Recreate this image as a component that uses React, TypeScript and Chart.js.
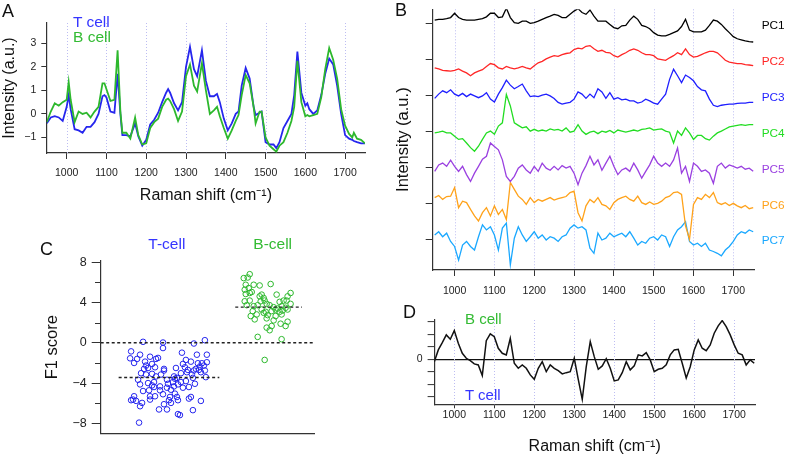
import React, { useEffect, useRef } from "react";
import { Chart, registerables } from "chart.js";

Chart.register(...registerables);

const W = 787;
const H = 458;
const FONT = "'Liberation Sans', Arial, Helvetica, sans-serif";
Chart.defaults.font.family = FONT;
Chart.defaults.color = "#222";

// ---------------- shared ----------------
const SHIFT_TICKS = [1000, 1100, 1200, 1300, 1400, 1500, 1600, 1700];
const T_COLOR = "#2626ee";
const B_COLOR = "#2db82d";
const AXIS = "#333";

// ---------------- Panel A: mean spectra ----------------
const WAVENUMBER_A = [
  950, 960, 970, 980, 990, 1000, 1005, 1010, 1020, 1030,
  1040, 1050, 1060, 1070, 1080, 1090, 1095, 1100, 1110, 1120,
  1128, 1135, 1140, 1150, 1160, 1172, 1180, 1190, 1200, 1210,
  1220, 1230, 1240, 1250, 1255, 1260, 1270, 1280, 1290, 1300,
  1310, 1320, 1328, 1340, 1350, 1360, 1370, 1378, 1385, 1395,
  1405, 1415, 1425, 1432, 1440, 1450, 1460, 1470, 1475, 1485,
  1490, 1500, 1510, 1520, 1527, 1535, 1545, 1555, 1565, 1572,
  1580, 1590, 1600, 1605, 1610, 1620, 1630, 1640, 1650, 1660,
  1670, 1680, 1690, 1700, 1710, 1718, 1722, 1730, 1740, 1750,
];
const T_CELL_SPECTRUM = [
  -0.4, -0.15, -0.1, -0.15, -0.3, 0.3, 0.8, 0.2, -0.65, -0.7,
  -0.8, -0.55, -0.55, -0.35, 0.0, 0.75, 0.8, 0.7, 0.1, 0.05,
  1.7, 0.0, -0.9, -0.9, -0.95, -0.4, -0.95, -1.35, -1.1, -0.45,
  -0.25, 0.05, 0.5, 0.9, 1.05, 0.9, 0.45, 0.15, 0.5, 2.0,
  2.85, 1.9, 1.6, 2.7, 1.4, 0.75, 0.75, 0.85, 0.5, -0.2,
  -0.7, -0.4, 0.0, 0.1, 1.2, 1.95, 1.5, 0.3, -0.05, 0.05,
  0.1, -1.2, -1.3, -1.3, -1.45, -1.2, -0.6, -0.3, 0.0, 0.8,
  2.65, 0.9, 0.35, 0.45, 0.2, 0.0, 0.15, 0.8, 1.7, 2.35,
  2.1, 1.2, 0.0, -0.9, -1.05, -1.1, -1.15, -1.2, -1.25, -1.25,
];
const B_CELL_SPECTRUM = [
  -0.35, 0.1, 0.45, 0.35, 0.5, 0.6, 1.35, 0.6, -0.35, 0.1,
  0.0, 0.05, -0.15, 0.1, 0.3, 1.3, 1.3, 1.05, 0.55, 0.6,
  2.7, 0.1, -0.8, -0.8, -1.05, -0.15, -0.9, -1.3, -1.25, -0.6,
  -0.35, -0.2, 0.3, 0.6, 0.65, 0.55, 0.2, -0.3, 0.1, 1.6,
  2.1, 1.2, 0.95, 2.15, 1.0, 0.0, 0.15, 0.3, -0.1, -0.6,
  -1.05, -0.7, -0.3, -0.05, 0.8, 1.65, 1.3, 0.3, -0.4, 0.1,
  0.1, -1.0, -1.35, -1.5, -1.6, -1.35, -1.2, -0.8, -0.3, 0.3,
  2.25, 0.5, -0.1, -0.05, -0.1, -0.05, 0.0, 0.7, 1.9, 2.8,
  2.3, 1.5, 0.2, -0.5, -0.85, -1.0, -0.8, -1.05, -1.1, -1.25,
];
const A_Y_TICKS = [-1, 0, 1, 2, 3];

// ---------------- Panel B: principal components ----------------
const WAVENUMBER = [
  950, 960, 970, 980, 990, 1000, 1010, 1020, 1030, 1040,
  1050, 1060, 1070, 1080, 1090, 1100, 1110, 1120, 1130, 1140,
  1150, 1160, 1170, 1180, 1190, 1200, 1210, 1220, 1230, 1240,
  1250, 1260, 1270, 1280, 1290, 1300, 1310, 1320, 1330, 1340,
  1350, 1360, 1370, 1380, 1390, 1400, 1410, 1420, 1430, 1440,
  1450, 1460, 1470, 1480, 1490, 1500, 1510, 1520, 1530, 1540,
  1550, 1560, 1570, 1580, 1590, 1600, 1610, 1620, 1630, 1640,
  1650, 1660, 1670, 1680, 1690, 1700, 1710, 1720, 1730, 1740,
  1750,
];
const PC_NAMES = ["PC1", "PC2", "PC3", "PC4", "PC5", "PC6", "PC7"];
const PC_COLORS = ["#000000", "#ff2626", "#1f1fff", "#22dd22", "#9a40e0", "#ffa21a", "#1aa8ff"];
const PC_OFFSETS = [6, 5, 4, 3, 2, 1, 0];
const PC1 = [
  0.10, 0.12, 0.12, 0.14, 0.17, 0.29, 0.17, 0.12, 0.10, 0.10,
  0.10, 0.12, 0.14, 0.19, 0.29, 0.29, 0.17, 0.19, 0.43, 0.17,
  0.03, 0.01, 0.07, 0.07, 0.01, 0.03, 0.07, 0.12, 0.17, 0.21,
  0.26, 0.23, 0.17, 0.17, 0.26, 0.35, 0.42, 0.31, 0.26, 0.38,
  0.21, 0.07, 0.07, 0.07, -0.02, -0.11, -0.14, -0.06, -0.05, 0.10,
  0.21, 0.12, -0.05, -0.08, -0.14, -0.25, -0.32, -0.34, -0.34, -0.30,
  -0.25, -0.20, -0.08, 0.12, -0.18, -0.23, -0.23, -0.23, -0.18, -0.05,
  0.10, 0.07, -0.02, -0.14, -0.25, -0.36, -0.42, -0.45, -0.48, -0.50,
  -0.51,
];
const PC2 = [
  -0.23, -0.26, -0.30, -0.31, -0.32, -0.30, -0.26, -0.32, -0.37, -0.45,
  -0.37, -0.32, -0.28, -0.19, -0.11, -0.14, -0.23, -0.26, -0.19, -0.23,
  -0.26, -0.23, -0.19, -0.23, -0.26, -0.17, -0.09, -0.05, 0.02, 0.07,
  0.11, 0.09, 0.14, 0.17, 0.19, 0.28, 0.32, 0.30, 0.37, 0.39,
  0.30, 0.23, 0.26, 0.20, 0.19, 0.11, 0.07, 0.14, 0.19, 0.26,
  0.30, 0.26, 0.19, 0.14, 0.14, 0.11, 0.02, 0.00, -0.02, 0.05,
  0.11, 0.19, 0.14, 0.30, 0.14, 0.07, 0.09, 0.14, 0.19, 0.23,
  0.23, 0.19, 0.09, -0.02, -0.07, -0.09, -0.11, -0.11, -0.14, -0.15,
  -0.17,
];
const PC3 = [
  -0.08, 0.04, 0.13, 0.08, 0.16, 0.04, -0.01, 0.06, -0.03, 0.04,
  -0.01, -0.06, -0.01, 0.08, -0.10, -0.18, 0.04, 0.22, 0.43, 0.29,
  0.19, 0.25, 0.32, 0.13, -0.03, -0.01, -0.03, 0.01, 0.04, -0.01,
  -0.08, -0.19, -0.24, -0.21, -0.19, -0.10, 0.10, 0.04, -0.08, 0.04,
  -0.06, 0.19, 0.10, -0.08, 0.08, -0.10, -0.06, -0.12, -0.10, -0.15,
  -0.15, -0.21, -0.18, -0.10, -0.15, -0.21, -0.24, -0.10, 0.04, 0.45,
  0.73, 0.55, 0.36, 0.57, 0.50, 0.41, 0.25, 0.16, 0.13, -0.10,
  -0.27, -0.31, -0.27, -0.25, -0.24, -0.24, -0.22, -0.21, -0.21, -0.19,
  -0.19,
];
const PC4 = [
  -0.04, -0.02, 0.01, -0.04, -0.04, -0.13, -0.22, -0.20, -0.32, -0.45,
  -0.55, -0.41, -0.22, -0.04, 0.01, -0.08, 0.15, 0.24, 1.03, 0.71,
  0.24, 0.17, 0.10, 0.13, 0.01, 0.06, 0.01, 0.04, 0.01, 0.07,
  0.04, 0.06, 0.01, 0.10, -0.02, 0.01, 0.19, 0.01, -0.08, -0.02,
  0.01, -0.06, 0.01, -0.02, 0.03, -0.04, 0.04, 0.01, -0.02, 0.01,
  0.04, 0.01, 0.06, 0.07, 0.10, 0.04, 0.06, 0.07, 0.01, -0.02,
  -0.32, 0.01, -0.11, 0.10, -0.04, -0.22, -0.11, -0.11, -0.20, -0.24,
  -0.13, -0.04, 0.01, 0.07, 0.13, 0.15, 0.17, 0.19, 0.17, 0.19,
  0.19,
];
const PC5 = [
  -0.11, 0.07, 0.12, 0.03, 0.20, 0.03, -0.11, 0.03, -0.20, -0.39,
  -0.16, 0.03, 0.23, 0.31, 0.68, 0.58, 0.49, 0.21, -0.25, -0.39,
  -0.25, -0.02, 0.07, -0.07, -0.16, 0.03, -0.11, 0.12, -0.02, -0.08,
  0.03, -0.07, 0.05, -0.02, 0.03, -0.16, -0.48, -0.16, 0.05, 0.31,
  0.07, 0.21, -0.08, 0.12, 0.31, 0.03, -0.20, -0.07, -0.02, -0.11,
  0.12, -0.07, -0.30, -0.11, 0.07, 0.31, 0.12, 0.03, 0.12, 0.03,
  0.21, 0.54, -0.16, 0.03, -0.39, 0.12, 0.03, -0.11, -0.07, -0.16,
  -0.44, 0.03, 0.12, -0.02, 0.07, 0.03, -0.02, 0.03, -0.05, -0.02,
  -0.11,
];
const PC6 = [
  0.16, 0.22, 0.11, 0.19, 0.20, 0.44, -0.12, 0.06, 0.02, -0.17,
  -0.35, -0.49, -0.26, -0.12, -0.35, -0.07, -0.31, -0.17, -0.45, 0.58,
  0.39, 0.20, 0.11, -0.03, 0.16, 0.02, 0.11, 0.06, 0.11, 0.16,
  0.09, 0.13, 0.16, 0.19, 0.30, 0.34, -0.26, -0.49, -0.07, 0.11,
  0.02, 0.16, -0.03, -0.07, -0.17, 0.02, 0.11, 0.16, 0.20, 0.11,
  0.06, 0.20, 0.02, -0.03, 0.04, -0.03, 0.00, 0.06, 0.16, 0.20,
  0.30, 0.32, 0.25, -0.63, -1.00, -0.03, 0.16, 0.11, 0.25, 0.16,
  0.30, 0.02, -0.03, 0.02, -0.06, 0.00, -0.07, -0.12, -0.06, -0.15,
  -0.12,
];
const PC7 = [
  0.12, 0.21, 0.07, 0.17, -0.06, -0.20, -0.58, -0.16, -0.06, -0.20,
  -0.30, 0.07, 0.40, 0.26, 0.35, 0.12, -0.30, 0.31, 0.45, -0.71,
  0.03, 0.35, 0.12, -0.06, 0.07, 0.21, 0.03, 0.12, -0.02, 0.07,
  0.03, -0.06, 0.07, 0.12, 0.31, 0.40, 0.31, 0.35, 0.26, -0.25,
  -0.39, 0.17, -0.02, 0.03, 0.17, 0.07, 0.12, 0.17, 0.07, 0.21,
  0.03, -0.16, -0.06, -0.11, 0.03, 0.07, -0.02, 0.12, 0.07, -0.20,
  0.07, 0.26, 0.35, 0.49, -0.06, -0.16, -0.11, -0.20, -0.11, -0.30,
  -0.34, -0.39, -0.46, -0.30, -0.20, -0.06, 0.12, 0.21, 0.17, 0.26,
  0.21,
];
const PC_SERIES = [PC1, PC2, PC3, PC4, PC5, PC6, PC7];

// ---------------- Panel C: F1 scores ----------------
const GROUP_POS = [1, 2];
const MEAN_HALF_WIDTH = [0.505, 0.335];
const T_CELL_MEAN_F1 = -3.45;
const B_CELL_MEAN_F1 = 3.55;
const T_CELL_JITTER = [
  -0.26, -0.06, 0.25, 0.36, -0.06, -0.38, 0.13, -0.29, 0.28, 0.38,
  -0.39, -0.32, -0.19, -0.13, -0.11, -0.35, -0.24, 0.17, 0.22, 0.29,
  0.38, -0.23, -0.17, -0.14, 0.14, 0.31, 0.35, 0.33, -0.25, -0.21,
  -0.05, 0.07, 0.16, 0.19, 0.27, 0.30, 0.32, 0.36, -0.28, -0.23,
  -0.05, 0.12, 0.18, 0.23, 0.25, -0.17, -0.13, -0.08, 0.05, 0.08,
  0.37, -0.31, -0.15, -0.02, 0.06, 0.12, 0.17, 0.24, -0.29, -0.21,
  -0.17, -0.01, 0.04, 0.09, 0.26, -0.15, -0.09, -0.02, 0.05, 0.14,
  0.20, -0.26, -0.20, -0.09, 0.02, 0.06, -0.19, -0.14, -0.06, 0.01,
  0.08, 0.20, 0.22, -0.35, -0.36, -0.38, -0.33, -0.19, 0.00, 0.32,
  0.09, -0.27, -0.29, -0.05, 0.02, -0.10, -0.02, 0.24, 0.09, 0.11,
  -0.30,
];
const T_CELL_F1 = [
  0.1, 0.03, -0.07, 0.26, -0.52, -0.85, -0.98, -1.18, -1.18, -1.18,
  -1.54, -1.6, -1.38, -1.6, -1.5, -2.0, -1.87, -1.7, -1.87, -2.03,
  -1.93, -2.26, -2.1, -2.43, -2.1, -2.36, -2.26, -2.03, -2.59, -2.5,
  -2.59, -2.5, -2.43, -2.69, -2.59, -2.69, -2.92, -2.75, -3.02, -3.15,
  -2.75, -3.02, -2.92, -3.15, -2.75, -3.08, -3.34, -3.15, -3.34, -3.48,
  -3.41, -3.67, -3.9, -3.67, -3.57, -3.9, -3.8, -3.48, -4.13, -4.0,
  -4.23, -4.07, -3.9, -4.13, -4.07, -4.39, -4.33, -4.46, -4.33, -4.46,
  -4.39, -4.79, -4.72, -4.72, -4.66, -5.05, -5.31, -5.31, -5.11, -5.38,
  -5.38, -5.54, -5.38, -5.31, -5.64, -5.7, -5.77, -5.64, -5.7, -5.77,
  -5.7, -5.97, -6.3, -6.1, -5.97, -6.62, -6.62, -6.69, -7.08, -7.18,
  -7.93,
];
const B_CELL_JITTER = [
  0.23, -0.25, -0.21, -0.19, -0.23, -0.15, 0.02, -0.09, -0.24, -0.20,
  -0.19, -0.23, -0.17, -0.07, -0.09, -0.05, 0.08, 0.22, 0.19, -0.24,
  -0.19, -0.08, -0.04, -0.02, 0.11, 0.15, 0.18, -0.22, -0.15, -0.11,
  0.01, 0.05, 0.09, 0.13, 0.17, 0.22, -0.16, -0.07, -0.03, 0.03,
  0.07, 0.14, 0.11, -0.18, -0.12, -0.01, 0.07, 0.13, 0.19, -0.14,
  -0.05, -0.02, 0.05, 0.12, 0.19, 0.17, 0.03, -0.02, 0.01, -0.11,
  0.13, -0.04,
];
const B_CELL_F1 = [
  8.66, 6.43, 6.49, 6.82, 5.77, 5.77, 5.84, 5.7, 5.28, 5.44,
  4.95, 4.85, 5.05, 4.79, 4.62, 4.46, 4.79, 4.95, 4.62, 4.13,
  4.2, 4.13, 4.2, 3.87, 4.07, 4.2, 4.2, 3.74, 3.64, 3.74,
  3.74, 3.54, 3.41, 3.64, 3.48, 3.87, 3.15, 3.31, 3.08, 3.15,
  3.31, 3.21, 3.08, 2.66, 2.82, 2.75, 2.66, 2.82, 3.31, 2.33,
  2.98, 2.43, 2.23, 1.9, 2.1, 1.67, 1.67, 1.51, 1.25, 0.59,
  0.36, -1.7,
];
const C_Y_MAJOR = [-8, -4, 0, 4, 8];
const C_Y_MINOR = [-6, -2, 2, 6];
const C_X_MIN = 0.315;
const C_X_MAX = 2.465;

// ---------------- Panel D: F1 loading ----------------
const F1_LOADING = [
  -0.19, 0.75, 1.33, 1.95, 1.60, 2.29, 1.28, 0.48, 0.08, -0.11,
  -0.37, -0.45, -1.3, 1.49, 2.03, 1.81, 0.88, 0.48, 0.35, 1.68,
  -0.32, -0.72, -0.45, -0.72, -1.25, -1.6, -0.72, -0.19, -0.99, -0.45,
  -0.72, -0.91, -1.17, -1.07, -0.99, 0.08, -1.6, -3.2, -0.59, 1.41,
  0.21, -0.8, -0.53, 0.05, -0.72, -1.73, -1.65, -1.07, -0.19, -0.85,
  -0.53, 0.35, 0.27, 0.53, -0.05, -0.99, -0.8, -0.72, -0.45, 0.35,
  0.75, 0.8, -0.32, -1.5, -0.6, 0.75, 1.55, 0.88, 0.69, 1.15,
  2.08, 2.67, 3.09, 2.61, 1.95, 1.15, 0.48, 0.35, -0.45, -0.05,
  -0.32,
];
const D_Y_TICKS = [-3, -2, -1, 0, 1, 2, 3];

// ---------------- helpers ----------------
function guides(values: number[]) {
  return {
    id: "shiftGuides",
    beforeDatasetsDraw(chart: any) {
      const { ctx, chartArea } = chart;
      const xs = chart.scales.x;
      ctx.save();
      ctx.strokeStyle = "#bdbdf2";
      ctx.lineWidth = 1;
      ctx.setLineDash([1, 2]);
      for (const v of values) {
        const px = Math.round(xs.getPixelForValue(v)) + 0.5;
        ctx.beginPath();
        ctx.moveTo(px, chartArea.top);
        ctx.lineTo(px, chartArea.bottom);
        ctx.stroke();
      }
      ctx.restore();
    },
  };
}

function minorTicks(values: number[], length: number) {
  return {
    id: "minorTicks",
    afterDraw(chart: any) {
      const { ctx, chartArea } = chart;
      const ys = chart.scales.y;
      ctx.save();
      ctx.strokeStyle = AXIS;
      ctx.lineWidth = 1;
      for (const v of values) {
        const py = Math.round(ys.getPixelForValue(v)) + 0.5;
        ctx.beginPath();
        ctx.moveTo(chartArea.left - length, py);
        ctx.lineTo(chartArea.left, py);
        ctx.stroke();
      }
      ctx.restore();
    },
  };
}

function box(left0: number, yWidth: number, top: number, right: number, bottom: number, xHeight: number) {
  return {
    padding: { left: left0, top, right: W - right, bottom: H - bottom - xHeight },
    yWidth,
    xHeight,
  };
}

function baseOptions(layout: any, scales: any) {
  return {
    responsive: false,
    animation: false,
    devicePixelRatio: 1,
    events: [],
    layout: { padding: layout.padding },
    plugins: { legend: { display: false }, tooltip: { enabled: false } },
    elements: { line: { tension: 0 }, point: { radius: 0 } },
    scales,
  };
}

const fmt = (v: number) => (v < 0 ? "\u2212" + Math.abs(v) : String(v));

function shiftAxis(min: number, max: number, height: number, tickLength: number, padding: number, title: string | null, titlePad: number) {
  return {
    type: "linear",
    min,
    max,
    afterBuildTicks: (s: any) => {
      s.ticks = SHIFT_TICKS.map((v) => ({ value: v }));
    },
    afterFit: (s: any) => {
      s.height = height;
    },
    grid: { drawOnChartArea: false, drawTicks: true, tickLength, tickColor: AXIS, tickWidth: 1 },
    border: { display: true, color: AXIS, width: 1.2 },
    ticks: { font: { size: 10.5 }, color: "#222", padding, maxRotation: 0, minRotation: 0, autoSkip: false, callback: (v: number) => String(v) },
    title: title
      ? { display: true, text: title, font: { size: 16 }, color: "#111", padding: { top: 0, bottom: titlePad } }
      : { display: false },
  };
}

// ---------------- chart configs ----------------
function configA() {
  const L = box(0, 46.8, 23, 365, 153, 60);
  return {
    type: "line",
    data: {
      datasets: [
        {
          label: "T cell",
          data: WAVENUMBER_A.map((x, i) => ({ x, y: T_CELL_SPECTRUM[i] })),
          borderColor: T_COLOR,
          borderWidth: 1.8,
          pointRadius: 0,
          order: 1,
        },
        {
          label: "B cell",
          data: WAVENUMBER_A.map((x, i) => ({ x, y: B_CELL_SPECTRUM[i] })),
          borderColor: B_COLOR,
          borderWidth: 1.8,
          pointRadius: 0,
          order: 0,
        },
      ],
    },
    options: baseOptions(L, {
      x: shiftAxis(950, 1750, L.xHeight, 6, 7.5, "Raman shift (cm\u207B\u00B9)", 8),
      y: {
        type: "linear",
        min: -1.66,
        max: 3.86,
        afterBuildTicks: (s: any) => {
          s.ticks = A_Y_TICKS.map((v) => ({ value: v }));
        },
        afterFit: (s: any) => {
          s.width = L.yWidth;
        },
        grid: { drawOnChartArea: false, tickLength: 5.5, tickColor: AXIS },
        border: { display: true, color: AXIS, width: 1.2 },
        ticks: { font: { size: 10.5 }, padding: 5, autoSkip: false, callback: (v: number) => fmt(v) },
        title: { display: true, text: "Intensity (a.u.)", font: { size: 16 }, color: "#111", padding: { top: 0, bottom: 0 } },
      },
    }),
    plugins: [guides(SHIFT_TICKS)],
  };
}

function configB() {
  const L = box(394, 38.7, 9.3, 754, 270, 40);
  return {
    type: "line",
    data: {
      datasets: PC_SERIES.map((s, k) => ({
        label: PC_NAMES[k],
        data: WAVENUMBER.map((x, i) => ({ x, y: s[i] + PC_OFFSETS[k] })),
        borderColor: PC_COLORS[k],
        borderWidth: 1.3,
        pointRadius: 0,
      })),
    },
    options: baseOptions(L, {
      x: shiftAxis(945, 1752, L.xHeight, 6, 8.5, null, 0),
      y: {
        type: "linear",
        min: -0.855,
        max: 6.4,
        afterBuildTicks: (s: any) => {
          s.ticks = PC_OFFSETS.map((v) => ({ value: v }));
        },
        afterFit: (s: any) => {
          s.width = L.yWidth;
        },
        grid: { drawOnChartArea: false, tickLength: 7, tickColor: AXIS },
        border: { display: true, color: AXIS, width: 1.2 },
        ticks: { display: false, autoSkip: false },
        title: { display: true, text: "Intensity (a.u.)", font: { size: 16.5 }, color: "#111", padding: { top: 0, bottom: 0 } },
      },
    }),
    plugins: [guides(SHIFT_TICKS)],
  };
}

function configC() {
  const L = box(42.4, 58.3, 260.7, 315, 433.7, 0);
  const dashed = { borderColor: "#222", borderWidth: 1.4, borderDash: [3, 2.5], pointRadius: 0, showLine: true, order: 0 };
  return {
    type: "scatter",
    data: {
      datasets: [
        {
          label: "T-cell",
          data: T_CELL_F1.map((y, i) => ({ x: GROUP_POS[0] + T_CELL_JITTER[i], y })),
          pointStyle: "circle",
          pointRadius: 2.8,
          borderColor: T_COLOR,
          backgroundColor: "rgba(0,0,0,0)",
          pointBorderWidth: 1,
          clip: false,
          order: 1,
        },
        {
          label: "B-cell",
          data: B_CELL_F1.map((y, i) => ({ x: GROUP_POS[1] + B_CELL_JITTER[i], y })),
          pointStyle: "circle",
          pointRadius: 2.8,
          borderColor: B_COLOR,
          backgroundColor: "rgba(0,0,0,0)",
          pointBorderWidth: 1,
          clip: false,
          order: 1,
        },
        { label: "zero", data: [{ x: C_X_MIN, y: 0 }, { x: C_X_MAX, y: 0 }], ...dashed },
        {
          label: "T-cell mean",
          data: [
            { x: GROUP_POS[0] - MEAN_HALF_WIDTH[0], y: T_CELL_MEAN_F1 },
            { x: GROUP_POS[0] + MEAN_HALF_WIDTH[0], y: T_CELL_MEAN_F1 },
          ],
          ...dashed,
        },
        {
          label: "B-cell mean",
          data: [
            { x: GROUP_POS[1] - MEAN_HALF_WIDTH[1], y: B_CELL_MEAN_F1 },
            { x: GROUP_POS[1] + MEAN_HALF_WIDTH[1], y: B_CELL_MEAN_F1 },
          ],
          ...dashed,
        },
      ],
    },
    options: baseOptions(L, {
      x: {
        type: "linear",
        min: C_X_MIN,
        max: C_X_MAX,
        afterFit: (s: any) => {
          s.height = L.xHeight;
        },
        grid: { drawOnChartArea: false, drawTicks: false },
        border: { display: true, color: AXIS, width: 1.2 },
        ticks: { display: false },
      },
      y: {
        type: "linear",
        min: -9.03,
        max: 8.16,
        afterBuildTicks: (s: any) => {
          s.ticks = C_Y_MAJOR.map((v) => ({ value: v }));
        },
        afterFit: (s: any) => {
          s.width = L.yWidth;
        },
        grid: { drawOnChartArea: false, tickLength: 9, tickColor: AXIS },
        border: { display: true, color: AXIS, width: 1.2 },
        ticks: { font: { size: 12.5 }, color: "#222", padding: 5, autoSkip: false, callback: (v: number) => fmt(v) },
        title: { display: true, text: "F1 score", font: { size: 16.5 }, color: "#111", padding: { top: 0, bottom: 0 } },
      },
    }),
    plugins: [minorTicks(C_Y_MINOR, 5.7)],
  };
}

function configD() {
  const L = box(400, 34.3, 320, 755, 404.3, 53.7);
  return {
    type: "line",
    data: {
      datasets: [
        {
          label: "F1 loading",
          data: WAVENUMBER.map((x, i) => ({ x, y: F1_LOADING[i] })),
          borderColor: "#111",
          borderWidth: 1.5,
          pointRadius: 0,
        },
      ],
    },
    options: baseOptions(L, {
      x: shiftAxis(950, 1752, L.xHeight, 4, 0.5, "Raman shift (cm\u207B\u00B9)", 1.7),
      y: {
        type: "linear",
        min: -3.6,
        max: 3.14,
        afterBuildTicks: (s: any) => {
          s.ticks = D_Y_TICKS.map((v) => ({ value: v }));
        },
        afterFit: (s: any) => {
          s.width = L.yWidth;
        },
        grid: {
          drawOnChartArea: true,
          color: (c: any) => (c.tick && c.tick.value === 0 ? "#111" : "rgba(0,0,0,0)"),
          lineWidth: 1.2,
          tickLength: 6.7,
          tickColor: AXIS,
          tickWidth: 1,
        },
        border: { display: true, color: AXIS, width: 1.2 },
        ticks: { font: { size: 10.5 }, padding: 4.9, autoSkip: false, callback: (v: number) => (v === 0 ? "0" : "") },
      },
    }),
    plugins: [guides(SHIFT_TICKS)],
  };
}

// ---------------- components ----------------
function ChartCanvas({ make }: { make: () => any }) {
  const ref = useRef<HTMLCanvasElement | null>(null);
  useEffect(() => {
    if (!ref.current) return;
    const chart = new Chart(ref.current, make());
    return () => chart.destroy();
  }, [make]);
  return (
    <canvas
      ref={ref}
      width={W}
      height={H}
      style={{ position: "absolute", left: 0, top: 0, width: W, height: H }}
    />
  );
}

function Label({ text, x, baseline, size, color }: { text: string; x: number; baseline: number; size: number; color: string }) {
  return (
    <div
      style={{
        position: "absolute",
        left: x,
        top: baseline - 0.8465 * size,
        fontSize: size,
        lineHeight: `${size}px`,
        color,
        whiteSpace: "nowrap",
        fontFamily: FONT,
      }}
    >
      {text}
    </div>
  );
}

export default function App() {
  return (
    <div
      style={{
        position: "absolute",
        left: 0,
        top: 0,
        width: W,
        height: H,
        background: "#fff",
        overflow: "hidden",
        fontFamily: FONT,
      }}
    >
      <ChartCanvas make={configA} />
      <ChartCanvas make={configB} />
      <ChartCanvas make={configC} />
      <ChartCanvas make={configD} />

      <Label text="A" x={2} baseline={17.5} size={18} color="#111" />
      <Label text="B" x={395} baseline={16} size={18} color="#111" />
      <Label text="C" x={40} baseline={255} size={18} color="#111" />
      <Label text="D" x={403} baseline={318.3} size={18} color="#111" />

      <Label text="T cell" x={73} baseline={26.7} size={15.5} color="#3535ff" />
      <Label text="B cell" x={73} baseline={41.7} size={15.5} color="#33bb33" />

      {PC_NAMES.map((name, k) => (
        <Label key={name} text={name} x={761.7} baseline={30 + 35.9 * k} size={11.8} color={PC_COLORS[k]} />
      ))}

      <Label text="T-cell" x={148.3} baseline={249.3} size={15.5} color="#3535ff" />
      <Label text="B-cell" x={253.3} baseline={249.3} size={15.5} color="#33bb33" />

      <Label text="B cell" x={465} baseline={324} size={15} color="#33bb33" />
      <Label text="T cell" x={465} baseline={399.3} size={15} color="#3535ff" />
    </div>
  );
}
